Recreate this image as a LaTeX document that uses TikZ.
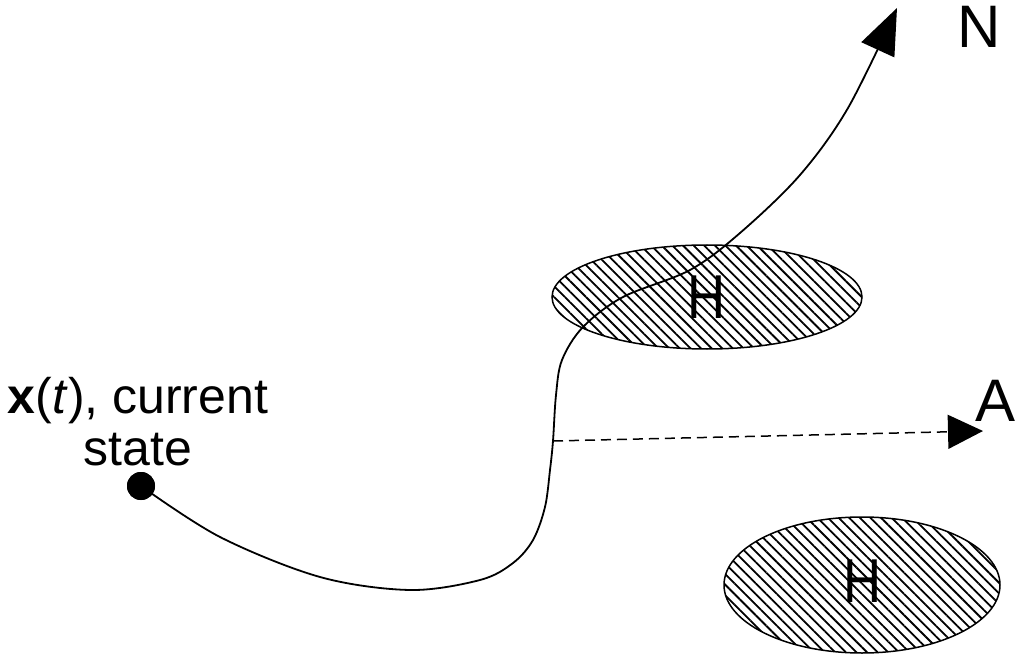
\documentclass[tikz,border=0pt]{standalone}
\usepackage{fontspec}
\setmainfont{Liberation Sans}
\usetikzlibrary{arrows.meta,patterns.meta,shapes.geometric}
\tikzset{
  region/.style={ellipse, draw, line width=1.5pt, inner sep=0pt,
    pattern={Lines[angle=-45, distance=7.5pt, line width=1.8pt]}},
  regionlabel/.style={font=\fontsize{62}{62}\selectfont, xscale=0.85},
  goallabel/.style={font=\fontsize{60}{60}\selectfont},
  statelabel/.style={font=\fontsize{50}{52}\selectfont, align=center},
  traj/.style={line width=1.8pt},
  bigtip/.style={-{Triangle[length=46pt, width=36pt]}},
  smalltip/.style={-{Triangle[length=35pt, width=34pt]}},
}
\begin{document}
\begin{tikzpicture}[x=1pt, y=1pt]
  \useasboundingbox (0,0) rectangle (1018,-655);

  % hatched regions
  \node[region, minimum width=310pt, minimum height=104pt] (h1) at (707,-297) {};
  \node[region, minimum width=276pt, minimum height=136pt] (h2) at (862,-585) {};
  \node[regionlabel] (h1lab) at (h1.center) {H};
  \node[regionlabel] (h2lab) at (863,-581) {H};

  % current state
  \node[circle, fill, minimum size=28pt, inner sep=0pt] (x) at (141,-486) {};
  \node[statelabel] (xlab) at (138,-422) {\textbf{x}(\textit{t}), current\\state};

  % goals
  \node[goallabel] (N) at (979,-27) {N};
  \node[goallabel] (A) at (996,-401) {A};

  % trajectory towards N
  \coordinate (branch) at (553,-441);
  \coordinate (ntip) at (897,-8);
  \coordinate (atip) at (983,-431);
  \draw[traj, bigtip] plot[smooth, tension=0.55] coordinates {
    (x.center) (220,-537) (320,-577) (410,-590) (480,-580) (513,-563)
    (533,-540) (545,-507) (550,-470) (branch) (556,-395) (562,-360)
    (583,-327) (623,-297) (690,-270) (740,-233) (800,-175) (848,-108)
    (ntip)};
  \node[circle, fill, minimum size=28pt, inner sep=0pt] at (x) {};

  % alternative path towards A
  \draw[line width=1.5pt, dash pattern=on 10pt off 6pt, smalltip] (branch) -- (atip);
\end{tikzpicture}
\end{document}
